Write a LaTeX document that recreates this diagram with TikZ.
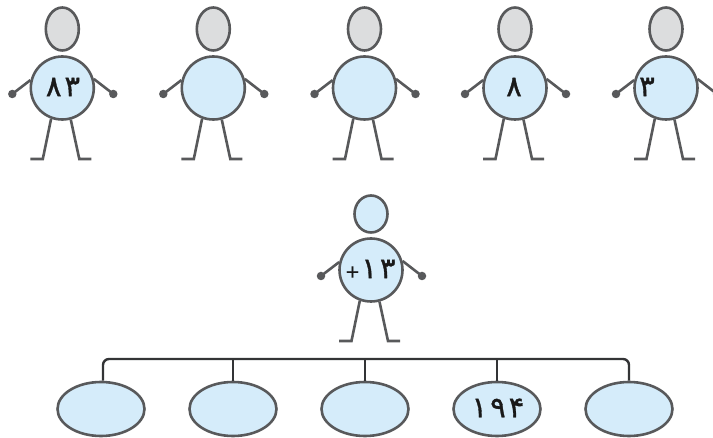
\documentclass[tikz,border=0pt]{standalone}
\usepackage{fontspec}
\newfontfamily\digitfont[Script=Arabic,FakeBold=1.2]{DejaVu Sans}
\usetikzlibrary{shapes.geometric}
\definecolor{skin}{HTML}{D5ECFA}
\definecolor{greyhead}{HTML}{DCDDDE}
\definecolor{stroke}{HTML}{58595B}
\definecolor{bracket}{HTML}{333436}
\tikzset{
  limb/.style={draw=stroke,line width=2.6pt},
  torso/.style={circle,draw=stroke,line width=2.6pt,fill=skin,minimum size=63pt,inner sep=0pt},
  headshape/.style={ellipse,draw=stroke,line width=2.6pt,minimum width=33pt,inner sep=0pt},
  palm/.style={circle,fill=stroke,minimum size=8.5pt,inner sep=0pt},
  leaf/.style={ellipse,draw=stroke,line width=2.6pt,fill=skin,minimum width=87pt,minimum height=54pt,inner sep=0pt},
  numeral/.style={text=black!90,font=\digitfont\fontsize{29}{29}\selectfont,inner sep=0pt},
  wire/.style={draw=bracket,line width=2.4pt},
}
\newcommand{\person}[6]{% name, x, body y, head y, head height, head fill
  \node[torso] (#1b) at (#2,#3) {};
  \node[headshape,minimum height=#5pt,fill=#6] (#1h) at (#2,#4) {};
  \coordinate (#1lh) at (#2-50,#3+6);
  \coordinate (#1rh) at (#2+51,#3+6);
  \coordinate (#1lk) at (#2-19.5,#3+71);
  \coordinate (#1lf) at (#2-32,#3+71);
  \coordinate (#1rk) at (#2+17,#3+71);
  \coordinate (#1rf) at (#2+29,#3+71);
  \node[palm] (#1lp) at (#1lh) {};
  \node[palm] (#1rp) at (#1rh) {};
  \draw[limb] (#1b.166) -- (#1lp.center);
  \draw[limb] (#1b.16) -- (#1rp.center);
  \draw[limb] (#1b.250) -- (#1lk) -- (#1lf);
  \draw[limb] (#1b.285) -- (#1rk) -- (#1rf);
}
\begin{document}
\begin{tikzpicture}[x=1pt,y=-1pt]
\useasboundingbox (0,0) rectangle (713,438);
\clip (0,0) rectangle (713,438);
\person{a}{62.3}{88}{29}{43}{greyhead}
\person{b}{213.3}{88}{29}{43}{greyhead}
\person{c}{364.5}{88}{29}{43}{greyhead}
\person{d}{515}{88}{29}{43}{greyhead}
\person{e}{666}{88}{29}{43}{greyhead}
\person{m}{371}{270}{214}{37}{skin}
\node[numeral] (la) at (63,87) {۸\hspace{3pt}۳};
\node[numeral] (ld) at (514,87) {۸};
\node[numeral] (le) at (647,87) {۳};
\node[numeral,font=\digitfont\fontsize{18}{18}\selectfont] (lp) at (352.5,272) {+};
\node[numeral] (lm) at (378.5,269) {۱\hspace{3pt}۳};
\node[leaf] (o1) at (101,409) {};
\node[leaf] (o2) at (233,409) {};
\node[leaf] (o3) at (365,409) {};
\node[leaf] (o4) at (497,409) {};
\node[leaf] (o5) at (629,409) {};
\node[numeral] (l4) at (498,408) {۱\hspace{3pt}۹\hspace{3pt}۴};
\coordinate (bl) at (103,359);
\coordinate (br) at (629,359);
\draw[wire,rounded corners=6pt] (o1.north -| bl) -- (bl) -- (br) -- (o5.north);
\draw[wire] (o2.north) -- (o2.north |- bl);
\draw[wire] (o3.north) -- (o3.north |- bl);
\draw[wire] (o4.north) -- (o4.north |- bl);
\end{tikzpicture}
\end{document}
